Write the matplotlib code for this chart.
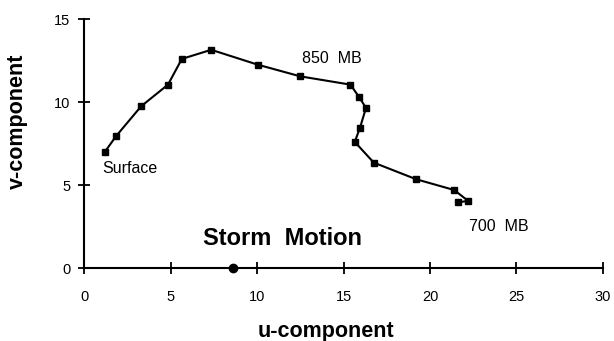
import matplotlib.pyplot as plt

plt.rcParams['font.family'] = ['Liberation Sans', 'DejaVu Sans']

# hodograph points, surface to 700 mb
u_wind = [1.2, 1.85, 3.3, 4.85, 5.65, 7.35, 10.05, 12.5, 15.4, 15.9, 16.3, 15.95, 15.65, 16.75, 19.2, 21.4, 22.2, 21.6]
v_wind = [7.0, 7.95, 9.75, 11.05, 12.6, 13.15, 12.25, 11.55, 11.05, 10.3, 9.65, 8.45, 7.6, 6.35, 5.35, 4.7, 4.05, 3.95]

storm_u = 8.6
storm_v = 0.0

xticks = [0, 5, 10, 15, 20, 25, 30]
yticks = [0, 5, 10, 15]

fig = plt.figure(figsize=(6.14, 3.41), dpi=100)
ax = fig.add_axes([0.137, 0.214, 0.845, 0.73])

ax.plot(u_wind, v_wind, color='k', linewidth=1.5, marker='s', markersize=3.8)
ax.plot(storm_u, storm_v, 'o', color='k', markersize=6, clip_on=False, zorder=5)

ax.text(14.3, 12.6, '850  MB', fontsize=11.5, ha='center', va='center')
ax.text(1.05, 6.0, 'Surface', fontsize=11.5, ha='left', va='center')
ax.text(24.0, 2.5, '700  MB', fontsize=11.5, ha='center', va='center')
ax.text(11.45, 1.8, 'Storm  Motion', fontsize=17, fontweight='bold', ha='center', va='center')

ax.set_xlim(0, 30)
ax.set_ylim(0, 15)
ax.set_xticks(xticks)
ax.set_yticks(yticks)
ax.tick_params(direction='inout', length=8, width=1.3, labelsize=10.5)
ax.tick_params(axis='x', pad=12)
ax.tick_params(axis='y', pad=6)
ax.spines['top'].set_visible(False)
ax.spines['right'].set_visible(False)
ax.spines['left'].set_linewidth(1.5)
ax.spines['bottom'].set_linewidth(1.5)
ax.set_xlabel('u-component', fontsize=15.5, fontweight='bold', va='center')
ax.set_ylabel('v-component', fontsize=15.5, fontweight='bold', va='center')
ax.xaxis.set_label_coords(0.466, -0.255)
ax.yaxis.set_label_coords(-0.128, 0.59)

fig.savefig('out.png', dpi=100)
